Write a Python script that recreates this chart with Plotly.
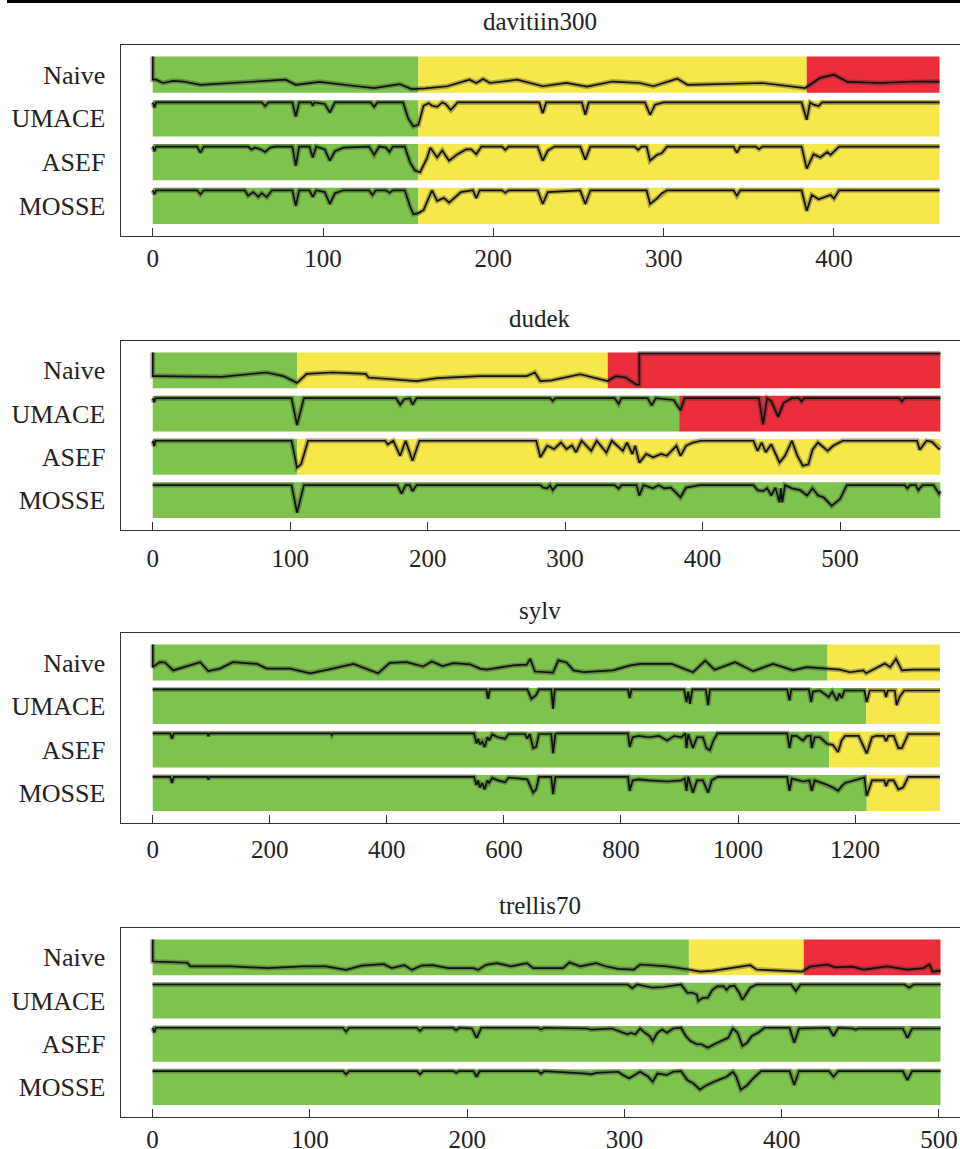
import plotly.graph_objects as go

# ---------------------------------------------------------------- data
ROWS = ["Naive", "UMACE", "ASEF", "MOSSE"]
SEQ_NAMES = ["davitiin300", "dudek", "sylv", "trellis70"]
X_TICKS = [[0, 100, 200, 300, 400],
           [0, 100, 200, 300, 400, 500],
           [0, 200, 400, 600, 800, 1000, 1200],
           [0, 100, 200, 300, 400, 500]]

# band segments (start frame, end frame, state)
dav_bands_naive = [(0, 156, "G"), (156, 384, "Y"), (384, 462, "R")]
dav_bands_umace = [(0, 156, "G"), (156, 462, "Y")]
dav_bands_asef = [(0, 156, "G"), (156, 462, "Y")]
dav_bands_mosse = [(0, 156, "G"), (156, 462, "Y")]

dud_bands_naive = [(0, 105, "G"), (105, 331, "Y"), (331, 573, "R")]
dud_bands_umace = [(0, 383, "G"), (383, 573, "R")]
dud_bands_asef = [(0, 105, "G"), (105, 573, "Y")]
dud_bands_mosse = [(0, 573, "G")]

syl_bands_naive = [(0, 1153, "G"), (1153, 1345, "Y")]
syl_bands_umace = [(0, 1219, "G"), (1219, 1345, "Y")]
syl_bands_asef = [(0, 1156, "G"), (1156, 1345, "Y")]
syl_bands_mosse = [(0, 1220, "G"), (1220, 1345, "Y")]

tre_bands_naive = [(0, 341, "G"), (341, 414, "Y"), (414, 501, "R")]
tre_bands_umace = [(0, 501, "G")]
tre_bands_asef = [(0, 501, "G")]
tre_bands_mosse = [(0, 501, "G")]

# ---- davitiin300 curves (frame, normalised score)
dav_naive_f = [0, 0, 2, 6, 12, 18, 28, 47, 67, 78, 84, 98, 116, 130, 145, 152, 160, 173, 186, 190, 194, 198, 214, 229, 243, 255, 270, 286, 294, 308, 314, 335, 358, 383, 392, 400, 408, 427, 447, 462]
dav_naive_v = [1.0, 0.36, 0.36, 0.27, 0.33, 0.31, 0.22, 0.27, 0.33, 0.36, 0.22, 0.3, 0.2, 0.13, 0.24, 0.1, 0.12, 0.18, 0.36, 0.27, 0.38, 0.27, 0.36, 0.18, 0.27, 0.17, 0.31, 0.27, 0.18, 0.39, 0.22, 0.24, 0.27, 0.13, 0.41, 0.5, 0.3, 0.27, 0.31, 0.31]
dav_umace_f = [0, 1, 2, 64, 66, 68, 82, 84, 86, 93, 94, 95, 101, 104, 107, 128, 130, 132, 147, 150, 153, 156, 159, 162, 164, 167, 170, 172, 175, 179, 227, 229, 231, 252, 254, 256, 289, 292, 295, 300, 381, 384, 386, 388, 391, 393, 462]
dav_umace_v = [0.94, 0.8, 0.94, 0.94, 0.84, 0.94, 0.94, 0.55, 0.94, 0.94, 0.85, 0.94, 0.9, 0.66, 0.94, 0.94, 0.82, 0.94, 0.94, 0.5, 0.28, 0.32, 0.85, 0.92, 0.85, 0.82, 0.94, 0.9, 0.73, 0.94, 0.94, 0.64, 0.94, 0.94, 0.6, 0.94, 0.94, 0.6, 0.88, 0.94, 0.94, 0.46, 0.94, 0.88, 0.84, 0.94, 0.94]
dav_asef_f = [0, 1, 2, 26, 28, 30, 56, 58, 60, 63, 66, 69, 72, 82, 84, 86, 92, 94, 96, 101, 104, 107, 112, 118, 127, 130, 133, 137, 139, 141, 148, 151, 154, 157, 161, 163, 167, 170, 174, 179, 184, 187, 190, 193, 205, 207, 209, 226, 229, 232, 236, 251, 254, 257, 283, 285, 287, 290, 292, 296, 299, 302, 341, 343, 345, 354, 356, 358, 381, 384, 388, 392, 396, 398, 400, 403, 462]
dav_asef_v = [0.93, 0.8, 0.93, 0.93, 0.76, 0.93, 0.93, 0.85, 0.9, 0.86, 0.78, 0.9, 0.93, 0.93, 0.4, 0.93, 0.93, 0.63, 0.93, 0.85, 0.54, 0.8, 0.9, 0.92, 0.93, 0.7, 0.93, 0.9, 0.78, 0.93, 0.93, 0.5, 0.27, 0.22, 0.6, 0.9, 0.63, 0.82, 0.54, 0.72, 0.85, 0.85, 0.72, 0.93, 0.93, 0.84, 0.93, 0.93, 0.54, 0.82, 0.93, 0.93, 0.57, 0.93, 0.93, 0.84, 0.93, 0.93, 0.54, 0.7, 0.75, 0.93, 0.93, 0.76, 0.93, 0.93, 0.86, 0.93, 0.93, 0.32, 0.72, 0.63, 0.78, 0.7, 0.8, 0.93, 0.93]
dav_mosse_f = [0, 1, 2, 26, 28, 30, 54, 56, 59, 62, 64, 67, 70, 82, 84, 86, 92, 94, 96, 101, 104, 107, 112, 127, 129, 131, 137, 139, 141, 148, 151, 153, 156, 159, 164, 167, 171, 174, 181, 188, 190, 192, 205, 207, 209, 226, 229, 232, 251, 254, 257, 290, 292, 296, 299, 302, 341, 343, 345, 381, 384, 387, 391, 398, 400, 403, 462]
dav_mosse_v = [0.93, 0.82, 0.93, 0.93, 0.82, 0.93, 0.93, 0.78, 0.88, 0.75, 0.85, 0.74, 0.93, 0.93, 0.5, 0.93, 0.93, 0.75, 0.93, 0.88, 0.55, 0.85, 0.93, 0.93, 0.8, 0.93, 0.93, 0.86, 0.93, 0.93, 0.5, 0.27, 0.3, 0.38, 0.93, 0.64, 0.72, 0.59, 0.88, 0.93, 0.71, 0.93, 0.93, 0.86, 0.93, 0.93, 0.55, 0.88, 0.93, 0.55, 0.93, 0.93, 0.55, 0.7, 0.85, 0.93, 0.93, 0.78, 0.93, 0.93, 0.36, 0.8, 0.68, 0.8, 0.7, 0.93, 0.93]

# ---- dudek curves
dud_naive_f = [0, 0, 3, 36, 50, 83, 95, 105, 112, 131, 155, 157, 192, 207, 238, 272, 278, 282, 290, 311, 331, 337, 344, 352, 354, 354, 573]
dud_naive_v = [1.0, 0.34, 0.34, 0.34, 0.32, 0.44, 0.34, 0.15, 0.4, 0.44, 0.4, 0.3, 0.2, 0.28, 0.34, 0.34, 0.44, 0.2, 0.22, 0.39, 0.2, 0.34, 0.3, 0.1, 0.1, 0.97, 0.97]
dud_umace_f = [0, 1, 2, 101, 105, 110, 177, 180, 183, 187, 189, 192, 289, 291, 293, 336, 339, 341, 360, 363, 366, 375, 379, 384, 387, 441, 444, 447, 450, 455, 459, 465, 470, 472, 474, 543, 545, 547, 573]
dud_umace_v = [0.93, 0.82, 0.93, 0.93, 0.18, 0.93, 0.93, 0.75, 0.9, 0.93, 0.75, 0.93, 0.93, 0.85, 0.93, 0.93, 0.77, 0.93, 0.93, 0.73, 0.93, 0.9, 0.88, 0.59, 0.93, 0.93, 0.2, 0.93, 0.85, 0.41, 0.8, 0.93, 0.93, 0.84, 0.93, 0.93, 0.84, 0.93, 0.93]
dud_asef_f = [0, 1, 2, 101, 105, 108, 113, 169, 171, 175, 180, 184, 189, 194, 279, 282, 287, 292, 297, 301, 305, 308, 312, 319, 323, 330, 334, 342, 345, 349, 351, 354, 359, 364, 370, 374, 381, 384, 388, 393, 399, 437, 440, 443, 446, 450, 456, 460, 465, 469, 473, 477, 480, 484, 491, 495, 502, 556, 558, 563, 567, 572, 573]
dud_asef_v = [0.95, 0.8, 0.95, 0.95, 0.2, 0.3, 0.95, 0.95, 0.85, 0.95, 0.53, 0.95, 0.39, 0.95, 0.95, 0.49, 0.81, 0.72, 0.9, 0.72, 0.82, 0.63, 0.95, 0.67, 0.95, 0.62, 0.95, 0.67, 0.9, 0.58, 0.81, 0.34, 0.58, 0.49, 0.58, 0.53, 0.81, 0.53, 0.81, 0.9, 0.95, 0.95, 0.67, 0.9, 0.63, 0.85, 0.34, 0.53, 0.95, 0.53, 0.25, 0.29, 0.7, 0.9, 0.67, 0.81, 0.95, 0.95, 0.7, 0.95, 0.92, 0.72, 0.72]
dud_mosse_f = [0, 101, 105, 110, 178, 181, 184, 187, 189, 192, 282, 284, 287, 289, 291, 294, 336, 339, 341, 352, 354, 357, 364, 368, 372, 377, 384, 388, 398, 437, 440, 444, 447, 450, 453, 456, 457, 458, 460, 465, 471, 476, 480, 484, 488, 494, 500, 505, 547, 549, 551, 555, 557, 560, 568, 572, 573]
dud_mosse_v = [0.92, 0.92, 0.15, 0.92, 0.92, 0.68, 0.92, 0.92, 0.75, 0.92, 0.92, 0.85, 0.83, 0.92, 0.78, 0.92, 0.92, 0.82, 0.92, 0.92, 0.63, 0.92, 0.83, 0.92, 0.83, 0.85, 0.58, 0.85, 0.92, 0.92, 0.78, 0.75, 0.83, 0.63, 0.85, 0.44, 0.83, 0.44, 0.92, 0.83, 0.78, 0.63, 0.83, 0.63, 0.58, 0.34, 0.53, 0.92, 0.92, 0.83, 0.92, 0.92, 0.78, 0.92, 0.92, 0.68, 0.75]

# ---- sylv curves
syl_naive_f = [0, 0, 12, 21, 35, 46, 81, 95, 115, 137, 178, 195, 235, 269, 300, 343, 385, 405, 434, 462, 477, 495, 514, 542, 559, 571, 616, 639, 645, 653, 684, 693, 707, 719, 737, 786, 816, 833, 887, 923, 944, 960, 995, 1026, 1060, 1094, 1117, 1152, 1174, 1191, 1214, 1219, 1251, 1260, 1270, 1280, 1300, 1345]
syl_naive_v = [1.0, 0.37, 0.51, 0.5, 0.28, 0.33, 0.51, 0.26, 0.33, 0.51, 0.46, 0.33, 0.33, 0.2, 0.3, 0.46, 0.2, 0.49, 0.51, 0.39, 0.53, 0.4, 0.48, 0.45, 0.33, 0.3, 0.42, 0.44, 0.6, 0.25, 0.22, 0.56, 0.5, 0.28, 0.23, 0.28, 0.42, 0.46, 0.46, 0.23, 0.55, 0.3, 0.51, 0.26, 0.46, 0.28, 0.37, 0.33, 0.3, 0.23, 0.28, 0.2, 0.47, 0.37, 0.6, 0.28, 0.3, 0.3]
syl_umace_f = [0, 570, 573, 576, 640, 647, 655, 660, 681, 684, 687, 812, 815, 818, 908, 912, 915, 918, 922, 945, 949, 952, 1084, 1088, 1091, 1121, 1125, 1128, 1140, 1155, 1161, 1169, 1173, 1177, 1182, 1216, 1220, 1225, 1250, 1253, 1256, 1268, 1271, 1276, 1284, 1345]
syl_umace_v = [0.96, 0.96, 0.7, 0.96, 0.96, 0.7, 0.8, 0.96, 0.96, 0.42, 0.96, 0.96, 0.72, 0.96, 0.96, 0.61, 0.9, 0.56, 0.96, 0.96, 0.52, 0.96, 0.96, 0.65, 0.96, 0.96, 0.61, 0.9, 0.93, 0.75, 0.9, 0.65, 0.85, 0.72, 0.93, 0.93, 0.61, 0.93, 0.93, 0.75, 0.93, 0.93, 0.52, 0.75, 0.93, 0.93]
syl_asef_f = [0, 30, 33, 36, 93, 95, 97, 304, 306, 308, 549, 553, 556, 559, 563, 567, 572, 575, 580, 590, 602, 608, 636, 640, 644, 650, 655, 660, 681, 684, 688, 692, 812, 815, 820, 830, 848, 865, 879, 891, 903, 910, 912, 915, 923, 930, 940, 946, 952, 958, 965, 1084, 1088, 1092, 1100, 1111, 1118, 1124, 1126, 1131, 1140, 1152, 1162, 1171, 1177, 1183, 1206, 1220, 1229, 1236, 1249, 1253, 1257, 1266, 1274, 1280, 1291, 1345]
syl_asef_v = [0.95, 0.95, 0.8, 0.95, 0.95, 0.87, 0.95, 0.95, 0.9, 0.95, 0.95, 0.67, 0.8, 0.64, 0.72, 0.57, 0.84, 0.75, 0.92, 0.84, 0.8, 0.93, 0.93, 0.8, 0.93, 0.54, 0.57, 0.93, 0.93, 0.39, 0.93, 0.95, 0.95, 0.57, 0.84, 0.88, 0.84, 0.88, 0.75, 0.88, 0.84, 0.95, 0.54, 0.93, 0.54, 0.84, 0.84, 0.54, 0.48, 0.75, 0.95, 0.95, 0.54, 0.88, 0.88, 0.75, 0.88, 0.88, 0.54, 0.84, 0.84, 0.66, 0.63, 0.43, 0.75, 0.88, 0.88, 0.39, 0.84, 0.88, 0.88, 0.73, 0.88, 0.88, 0.54, 0.54, 0.93, 0.93]
syl_mosse_f = [0, 30, 33, 36, 93, 95, 97, 549, 553, 556, 559, 563, 567, 572, 575, 580, 590, 602, 608, 640, 650, 655, 660, 681, 684, 688, 812, 815, 820, 830, 848, 879, 903, 909, 912, 915, 923, 930, 940, 949, 955, 965, 1084, 1088, 1092, 1111, 1122, 1126, 1131, 1152, 1162, 1171, 1177, 1183, 1216, 1220, 1229, 1250, 1253, 1257, 1266, 1274, 1282, 1291, 1345]
syl_mosse_v = [0.95, 0.95, 0.78, 0.95, 0.95, 0.87, 0.95, 0.95, 0.72, 0.85, 0.65, 0.78, 0.6, 0.85, 0.78, 0.92, 0.85, 0.8, 0.93, 0.88, 0.51, 0.6, 0.95, 0.95, 0.47, 0.95, 0.95, 0.56, 0.85, 0.88, 0.85, 0.82, 0.85, 0.9, 0.56, 0.95, 0.51, 0.85, 0.85, 0.51, 0.85, 0.95, 0.95, 0.56, 0.9, 0.82, 0.85, 0.56, 0.85, 0.73, 0.65, 0.56, 0.69, 0.78, 0.93, 0.42, 0.85, 0.85, 0.69, 0.85, 0.85, 0.6, 0.65, 0.95, 0.95]

# ---- trellis70 curves
tre_naive_f = [0, 0, 3, 14, 22, 24, 50, 73, 95, 110, 123, 133, 147, 152, 160, 165, 171, 178, 188, 204, 207, 212, 219, 228, 238, 242, 261, 265, 272, 282, 288, 296, 306, 310, 327, 341, 348, 356, 369, 380, 384, 400, 413, 418, 429, 434, 445, 452, 467, 480, 490, 494, 496, 501]
tre_naive_v = [1.0, 0.39, 0.38, 0.37, 0.35, 0.25, 0.25, 0.2, 0.25, 0.25, 0.15, 0.27, 0.31, 0.2, 0.28, 0.15, 0.27, 0.28, 0.2, 0.2, 0.15, 0.29, 0.34, 0.25, 0.34, 0.2, 0.2, 0.36, 0.25, 0.34, 0.25, 0.18, 0.16, 0.3, 0.25, 0.16, 0.1, 0.12, 0.2, 0.28, 0.16, 0.13, 0.1, 0.24, 0.3, 0.22, 0.24, 0.16, 0.25, 0.16, 0.2, 0.3, 0.1, 0.13]
tre_umace_f = [0, 302, 305, 308, 318, 325, 336, 340, 343, 346, 347, 350, 353, 356, 359, 363, 365, 367, 370, 373, 375, 378, 380, 384, 406, 409, 412, 478, 481, 484, 501]
tre_umace_v = [0.95, 0.95, 0.85, 0.95, 0.86, 0.88, 0.95, 0.72, 0.72, 0.67, 0.49, 0.58, 0.58, 0.8, 0.9, 0.9, 0.8, 0.9, 0.92, 0.72, 0.52, 0.72, 0.86, 0.95, 0.95, 0.77, 0.95, 0.95, 0.86, 0.95, 0.95]
tre_asef_f = [0, 1, 2, 121, 123, 125, 168, 170, 172, 191, 193, 195, 203, 206, 209, 245, 247, 249, 276, 279, 292, 298, 302, 304, 307, 310, 313, 316, 318, 321, 324, 327, 331, 336, 339, 342, 346, 349, 353, 357, 362, 366, 369, 372, 375, 378, 381, 385, 389, 405, 408, 411, 430, 433, 436, 445, 447, 449, 477, 480, 483, 501]
tre_asef_v = [0.95, 0.82, 0.95, 0.95, 0.84, 0.95, 0.95, 0.86, 0.95, 0.95, 0.88, 0.95, 0.93, 0.67, 0.95, 0.95, 0.9, 0.95, 0.93, 0.9, 0.93, 0.84, 0.77, 0.81, 0.77, 0.93, 0.81, 0.72, 0.58, 0.81, 0.9, 0.81, 0.93, 0.95, 0.72, 0.58, 0.49, 0.49, 0.39, 0.49, 0.58, 0.67, 0.93, 0.81, 0.44, 0.53, 0.72, 0.81, 0.95, 0.95, 0.53, 0.93, 0.95, 0.72, 0.95, 0.93, 0.9, 0.93, 0.93, 0.67, 0.93, 0.93]
tre_mosse_f = [0, 121, 123, 125, 168, 170, 172, 191, 193, 195, 204, 206, 208, 245, 247, 249, 276, 279, 282, 296, 299, 303, 305, 310, 315, 318, 321, 327, 331, 336, 340, 344, 348, 352, 357, 365, 369, 371, 374, 378, 382, 387, 405, 408, 411, 430, 433, 436, 477, 480, 483, 501]
tre_mosse_v = [0.95, 0.95, 0.86, 0.95, 0.95, 0.86, 0.95, 0.95, 0.9, 0.95, 0.95, 0.79, 0.95, 0.95, 0.88, 0.95, 0.88, 0.86, 0.9, 0.93, 0.84, 0.75, 0.8, 0.93, 0.8, 0.65, 0.88, 0.84, 0.93, 0.95, 0.7, 0.6, 0.43, 0.55, 0.65, 0.79, 0.93, 0.8, 0.43, 0.55, 0.75, 0.95, 0.95, 0.56, 0.95, 0.95, 0.79, 0.95, 0.95, 0.7, 0.95, 0.95]

# ---------------------------------------------------------------- assemble
SEQS = [
    dict(bands=[dav_bands_naive, dav_bands_umace, dav_bands_asef, dav_bands_mosse],
         curves=[(dav_naive_f, dav_naive_v), (dav_umace_f, dav_umace_v),
                 (dav_asef_f, dav_asef_v), (dav_mosse_f, dav_mosse_v)]),
    dict(bands=[dud_bands_naive, dud_bands_umace, dud_bands_asef, dud_bands_mosse],
         curves=[(dud_naive_f, dud_naive_v), (dud_umace_f, dud_umace_v),
                 (dud_asef_f, dud_asef_v), (dud_mosse_f, dud_mosse_v)]),
    dict(bands=[syl_bands_naive, syl_bands_umace, syl_bands_asef, syl_bands_mosse],
         curves=[(syl_naive_f, syl_naive_v), (syl_umace_f, syl_umace_v),
                 (syl_asef_f, syl_asef_v), (syl_mosse_f, syl_mosse_v)]),
    dict(bands=[tre_bands_naive, tre_bands_umace, tre_bands_asef, tre_bands_mosse],
         curves=[(tre_naive_f, tre_naive_v), (tre_umace_f, tre_umace_v),
                 (tre_asef_f, tre_asef_v), (tre_mosse_f, tre_mosse_v)]),
]
for s in SEQS:
    for f, v in s["curves"]:
        assert len(f) == len(v), (len(f), len(v))

# ---------------------------------------------------------------- style / layout
W, H = 960, 1149
COLORS = {"G": "#7ec34d", "Y": "#f6e84b", "R": "#ec2d3b"}
FONT = "Liberation Serif, Times New Roman, serif"
TXT = "#222222"
FRAME_PX = [(45, 236), (341, 530), (633, 823), (928, 1117)]   # frame top/bottom in px
X_RANGES = [(-18.8, 474.0), (-23.3, 587.3), (-54.7, 1379.3), (-20.3, 513.4)]
TICK_STANDOFF = [0, 6, 4, 0]
X_LEFT_PX = 120.7
FRAME_H = 190.0
BAND_TOP0 = 11.5
PITCH = 43.5
BAND_H = 36.0

fig = go.Figure()
shapes = []
annotations = []
layout = {}

for i, s in enumerate(SEQS):
    k = "" if i == 0 else str(i + 1)
    xa, ya = "x" + k, "y" + k
    top_px, bot_px = FRAME_PX[i]
    dom_y = [1 - bot_px / H, 1 - top_px / H]
    layout["xaxis" + k] = dict(
        domain=[X_LEFT_PX / W, 1.0], anchor=ya, range=list(X_RANGES[i]),
        tickvals=X_TICKS[i], ticks="inside", ticklen=8, tickwidth=1.2, tickcolor="#333",
        showline=True, mirror=True, linecolor="#333", linewidth=1.3,
        showgrid=False, zeroline=False, ticklabelstandoff=TICK_STANDOFF[i],
        automargin=False, tickfont=dict(family=FONT, size=25, color=TXT))
    centers = [BAND_TOP0 + PITCH * r + BAND_H / 2 for r in range(4)]
    layout["yaxis" + k] = dict(
        domain=dom_y, anchor=xa, range=[FRAME_H, 0],
        tickvals=centers, ticktext=ROWS, ticks="", showline=True, mirror=False,
        linecolor="#333", linewidth=1.3, showgrid=False, zeroline=False,
        automargin=False, ticklabelstandoff=9, tickfont=dict(family=FONT, size=26, color=TXT))

    for r in range(4):
        btop = BAND_TOP0 + PITCH * r
        for (a, b, st) in s["bands"][r]:
            shapes.append(dict(type="rect", xref=xa, yref=ya, x0=a, x1=b,
                               y0=btop, y1=btop + BAND_H, fillcolor=COLORS[st],
                               line=dict(width=0), layer="below"))
        f, v = s["curves"][r]
        yy = [btop + BAND_H * (1 - val) for val in v]
        fig.add_trace(go.Scatter(x=f, y=yy, xaxis=xa, yaxis=ya, mode="lines",
                                 line=dict(color="rgba(40,40,40,0.35)", width=5),
                                 hoverinfo="skip", showlegend=False))
        fig.add_trace(go.Scatter(x=f, y=yy, xaxis=xa, yaxis=ya, mode="lines",
                                 line=dict(color="#111111", width=1.7),
                                 showlegend=False))

    annotations.append(dict(text=SEQ_NAMES[i], xref="paper", yref="paper",
                            x=(X_LEFT_PX / W + 1.0) / 2, y=1 - (top_px - 23) / H,
                            xanchor="center", yanchor="middle", showarrow=False,
                            font=dict(family=FONT, size=25, color=TXT)))

# top rule of the page
shapes.append(dict(type="rect", xref="paper", yref="paper", x0=7 / W, x1=1.0,
                   y0=1 - 3 / H, y1=1.0, fillcolor="#000", line=dict(width=0)))

fig.update_layout(width=W, height=H, margin=dict(l=0, r=0, t=0, b=0, autoexpand=False),
                  paper_bgcolor="white", plot_bgcolor="white",
                  shapes=shapes, annotations=annotations, showlegend=False, **layout)

fig.write_html("out.html", config={"displayModeBar": False},
               post_script="document.body.style.margin='0';document.body.style.padding='0';"
                           "document.body.style.overflow='hidden';")
